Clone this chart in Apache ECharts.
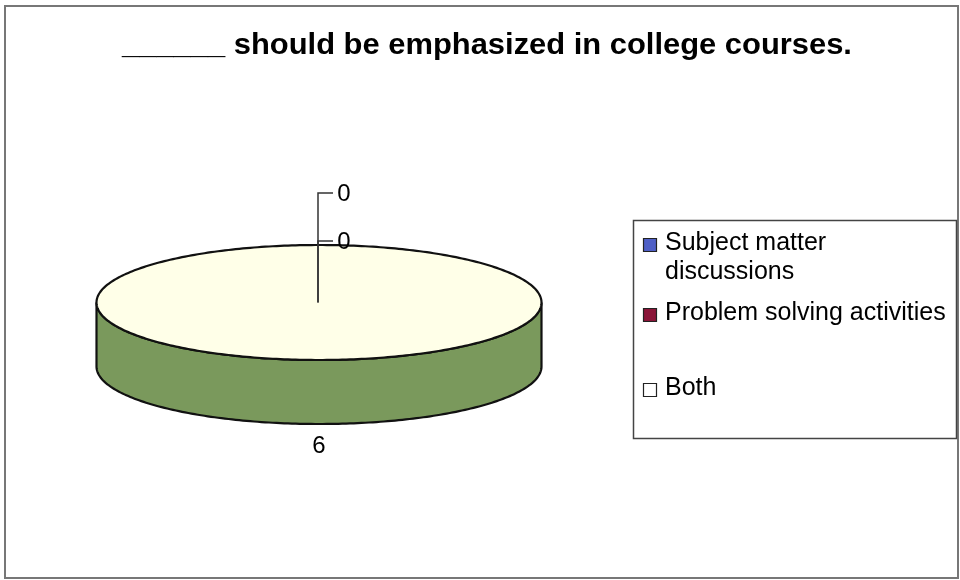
<!DOCTYPE html>
<html>
<head>
<meta charset="utf-8">
<title>Emphasis in college courses</title>
<script src="https://cdn.jsdelivr.net/npm/echarts@6/dist/echarts.min.js"></script>
<style>
  html, body { margin: 0; padding: 0; background: #ffffff; }
  #chart { width: 960px; height: 580px; }
</style>
</head>
<body>
<div id="chart"></div>
<script>
// ---- data ----
const titleText = '______ should be emphasized in college courses.';
const categories = ['Subject matter discussions', 'Problem solving activities', 'Both'];
const legendLines = [['Subject matter', 'discussions'], ['Problem solving activities'], ['Both']];
const responses = [0, 0, 6];

// ---- styling / geometry ----
const FONT = '"Liberation Sans", Arial, sans-serif';
const PIE = { cx: 319, cy: 302.5, rx: 222.5, ry: 57.5, depth: 64 };
const topColors = ['#4f5fc6', '#8a1538', '#ffffe8'];
const sideColors = ['#36418a', '#5e0e26', '#7a995c'];
const markerColors = ['#4f5fc6', '#8a1538', '#ffffff'];
const OUTLINE = '#111111';

const total = responses.reduce((a, b) => a + b, 0);
const starts = [];
responses.reduce((acc, v, i) => { starts[i] = acc; return acc + v; }, 0);

// angle 0 = 12 o'clock, increasing clockwise
function pt(theta, dy) {
  return [PIE.cx + PIE.rx * Math.sin(theta), PIE.cy - PIE.ry * Math.cos(theta) + (dy || 0)];
}
function arc(a0, a1, dy) {
  const pts = [];
  const n = Math.max(2, Math.ceil(Math.abs(a1 - a0) / (Math.PI / 180)));
  for (let k = 0; k <= n; k++) pts.push(pt(a0 + (a1 - a0) * k / n, dy));
  return pts;
}
function sliceAngles(i) {
  const a0 = 2 * Math.PI * starts[i] / total;
  const a1 = 2 * Math.PI * (starts[i] + responses[i]) / total;
  return [a0, a1];
}

// side walls (front half only)
function renderSide(params, api) {
  const i = params.dataIndex;
  const v = api.value(1);
  if (v <= 0) return null;
  const [a0, a1] = sliceAngles(i);
  const s = Math.max(a0, Math.PI / 2), e = Math.min(a1, 3 * Math.PI / 2);
  if (e <= s) return null;
  const pts = arc(s, e, 0).concat(arc(e, s, PIE.depth));
  return {
    type: 'polygon',
    shape: { points: pts },
    style: { fill: sideColors[i], stroke: OUTLINE, lineWidth: 2.2 }
  };
}

// top faces
function renderTop(params, api) {
  const i = params.dataIndex;
  const v = api.value(1);
  if (v <= 0) return null;
  const [a0, a1] = sliceAngles(i);
  let pts = arc(a0, a1, 0);
  if (a1 - a0 < 2 * Math.PI - 1e-9) pts = [[PIE.cx, PIE.cy]].concat(pts);
  return {
    type: 'polygon',
    shape: { points: pts },
    style: { fill: topColors[i], stroke: OUTLINE, lineWidth: 2.2 }
  };
}

// value labels (zero slices get stacked labels with leader lines)
function renderLabel(params, api) {
  const i = params.dataIndex;
  const v = api.value(1);
  const children = [];
  const labelStyle = { fontSize: 24, fontFamily: FONT, fill: '#000', align: 'center', verticalAlign: 'middle' };
  if (v > 0) {
    const [a0, a1] = sliceAngles(i);
    const m = (a0 + a1) / 2;
    const front = -Math.cos(m) > 0;
    const p = [PIE.cx + (PIE.rx + 22) * Math.sin(m),
               PIE.cy - (PIE.ry + 22) * Math.cos(m) + (front ? PIE.depth : 0)];
    children.push({ type: 'text', x: p[0], y: p[1], style: Object.assign({ text: String(v) }, labelStyle) });
  } else {
    let after = 0;
    for (let j = i + 1; j < responses.length; j++) if (responses[j] <= 0) after++;
    const y = (PIE.cy - PIE.ry) - 3 - after * 48;
    const lx = PIE.cx - 1;
    children.push({
      type: 'polyline',
      shape: { points: [[lx, PIE.cy], [lx, y - 1], [lx + 15, y - 1]] },
      style: { stroke: '#333', lineWidth: 1.5, fill: null }
    });
    children.push({ type: 'text', x: PIE.cx + 25, y: y, style: Object.assign({ text: String(v) }, labelStyle) });
  }
  return { type: 'group', children };
}

const seriesData = responses.map((v, i) => ({ name: categories[i], value: [i, v] }));

// legend built from the category list
const legendGraphics = [{
  type: 'rect',
  shape: { x: 633.5, y: 220.5, width: 323, height: 218 },
  style: { fill: '#ffffff', stroke: '#444', lineWidth: 1.5 },
  z: 1
}];
const legendRows = [243, 313, 388];
legendLines.forEach((lines, i) => {
  legendGraphics.push({
    type: 'rect',
    shape: { x: 643.5, y: legendRows[i] - 4.5, width: 13, height: 13 },
    style: { fill: markerColors[i], stroke: '#222', lineWidth: 1.2 },
    z: 2
  });
  lines.forEach((line, k) => {
    legendGraphics.push({
      type: 'text',
      x: 665, y: legendRows[i] + k * 29,
      style: { text: line, fontSize: 25, fontFamily: FONT, fill: '#000', align: 'left', verticalAlign: 'middle' },
      z: 2
    });
  });
});

const chart = echarts.init(document.getElementById('chart'), null, { renderer: 'canvas' });
chart.setOption({
  backgroundColor: '#ffffff',
  animation: false,
  graphic: [
    {
      type: 'rect',
      shape: { x: 5, y: 6, width: 953, height: 572 },
      style: { fill: null, stroke: '#777', lineWidth: 2 },
      z: 0
    },
    {
      type: 'text',
      x: 487, y: 46, scaleX: 1.03,
      style: { text: titleText, fontSize: 30, fontWeight: 'bold', fontFamily: FONT, fill: '#000', align: 'center', verticalAlign: 'middle' },
      z: 2
    }
  ].concat(legendGraphics),
  series: [
    { type: 'custom', name: 'side', coordinateSystem: 'none', silent: true, z: 2, data: seriesData, renderItem: renderSide },
    { type: 'custom', name: 'top', coordinateSystem: 'none', silent: true, z: 3, data: seriesData, renderItem: renderTop },
    { type: 'custom', name: 'labels', coordinateSystem: 'none', silent: true, z: 4, data: seriesData, renderItem: renderLabel }
  ]
});
</script>
</body>
</html>
